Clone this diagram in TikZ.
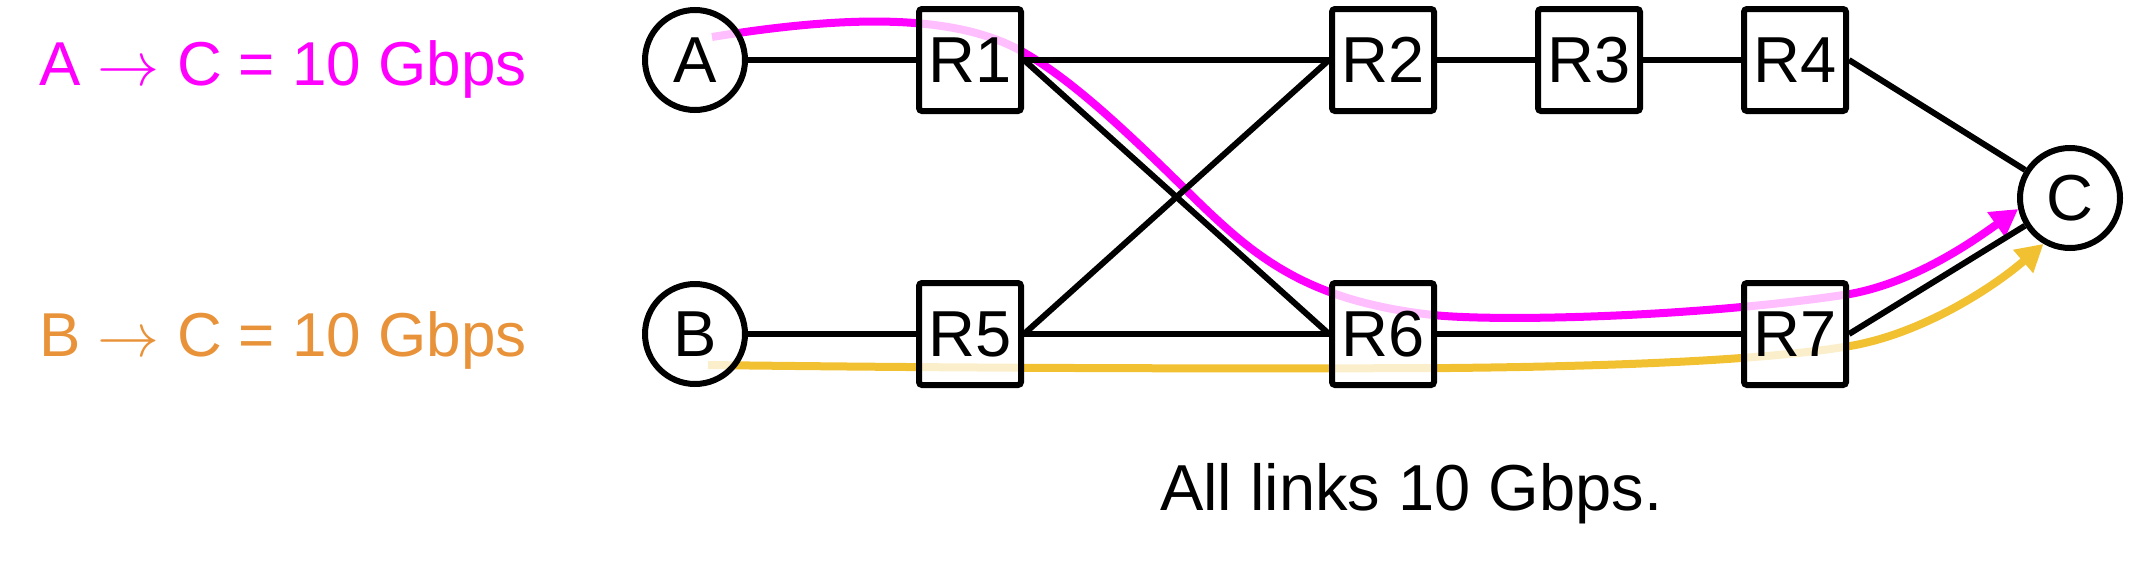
\documentclass[tikz,border=0pt]{standalone}
\usepackage{graphicx}
\usepackage{fontspec}
\setmainfont{Liberation Sans}
\usetikzlibrary{arrows.meta}
\pgfdeclarelayer{bg}
\pgfsetlayers{bg,main}
\definecolor{mag}{HTML}{FF00FF}
\definecolor{gold}{HTML}{F2C132}
\definecolor{orng}{HTML}{E8923A}
\newcommand{\flowarrow}{\resizebox{62pt}{!}{$\rightarrow$}}
\begin{document}
\begin{tikzpicture}[x=1pt,y=-1pt,
  every node/.style={font=\fontsize{65}{78}\selectfont, inner sep=0pt},
  router/.style={draw, line width=6pt, rounded corners=3pt, minimum size=102pt,
    fill=white, fill opacity=0.75, text opacity=1, draw opacity=1},
  host/.style={draw, circle, line width=6pt, minimum size=100pt,
    fill=white, fill opacity=0.75, text opacity=1, draw opacity=1},
  link/.style={line width=6pt},
  flowlabel/.style={anchor=base west, font=\fontsize{62}{74}\selectfont},
  flowA/.style={mag, line width=8pt, -{Triangle[length=27pt,width=29pt]}},
  flowB/.style={gold, line width=8pt, -{Triangle[length=27pt,width=29pt]}},
]
\useasboundingbox (0,0) rectangle (2131,568);

% nodes
\node[host] (A) at (695,60) {A};
\node[host] (B) at (695,334) {B};
\node[host] (C) at (2070,198) {C};
\node[router] (R1) at (970,60) {R1};
\node[router] (R2) at (1383,60) {R2};
\node[router] (R3) at (1589,60) {R3};
\node[router] (R4) at (1795,60) {R4};
\node[router] (R5) at (970,334) {R5};
\node[router] (R6) at (1383,334) {R6};
\node[router] (R7) at (1795,334) {R7};

% labels
\node[flowlabel, text=mag] (labA) at (39,85) {A \flowarrow{} C = 10 Gbps};
\node[flowlabel, text=orng] (labB) at (39,356) {B \flowarrow{} C = 10 Gbps};
\node[anchor=base west] (note) at (1160,510) {All links 10 Gbps.};

% links
\draw[link] (A) -- (R1);
\draw[link] (R1) -- (R2);
\draw[link] (R2) -- (R3);
\draw[link] (R3) -- (R4);
\draw[link] (R4.east) -- (C);
\draw[link] (B) -- (R5);
\draw[link] (R5) -- (R6);
\draw[link] (R6) -- (R7);
\draw[link] (R7.east) -- (C);
\draw[link] (R1.east) -- (R6.west);
\draw[link] (R5.east) -- (R2.west);

% flows
\coordinate (mstart) at (712,37);
\coordinate (ostart) at (708,365);
\begin{pgfonlayer}{bg}
\draw[flowA] (mstart) .. controls (830,18) and (950,10) .. (1023,52)
   .. controls (1070,79) and (1120,125) .. (1183,187)
   .. controls (1250,253) and (1300,300) .. (1433,315)
   .. controls (1500,322) and (1700,317) .. (1850,294)
   .. controls (1915,282) and (1972,242) .. (C.192);
\draw[flowB] (ostart) .. controls (950,368) and (1200,369) .. (1450,368)
   .. controls (1650,366) and (1780,358) .. (1850,346)
   .. controls (1920,334) and (1990,290) .. (C.240);
\end{pgfonlayer}
\end{tikzpicture}
\end{document}
